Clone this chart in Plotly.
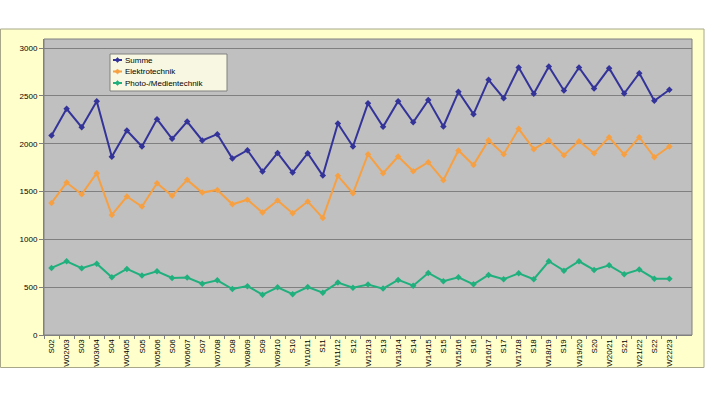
import plotly.graph_objects as go

categories = ["S02", "W02/03", "S03", "W03/04", "S04", "W04/05", "S05", "W05/06", "S06", "W06/07",
              "S07", "W07/08", "S08", "W08/09", "S09", "W09/10", "S10", "W10/11", "S11", "W11/12",
              "S12", "W12/13", "S13", "W13/14", "S14", "W14/15", "S15", "W15/16", "S16", "W16/17",
              "S17", "W17/18", "S18", "W18/19", "S19", "W19/20", "S20", "W20/21", "S21", "W21/22",
              "S22", "W22/23"]

summe = [2085, 2365, 2173, 2445, 1863, 2138, 1971, 2257, 2051, 2232,
         2034, 2100, 1845, 1932, 1709, 1904, 1699, 1901, 1667, 2211,
         1971, 2424, 2177, 2445, 2225, 2456, 2180, 2543, 2309, 2668,
         2476, 2797, 2522, 2808, 2557, 2797, 2578, 2790, 2525, 2738,
         2449, 2564]

elektro = [1381, 1594, 1472, 1692, 1256, 1448, 1343, 1587, 1455, 1622,
           1489, 1517, 1367, 1415, 1280, 1406, 1273, 1395, 1224, 1664,
           1482, 1890, 1692, 1866, 1713, 1807, 1618, 1929, 1777, 2037,
           1890, 2156, 1943, 2037, 1880, 2027, 1901, 2068, 1887, 2068,
           1859, 1971]

photo = [701, 771, 698, 746, 603, 691, 621, 666, 596, 600,
         537, 572, 481, 511, 422, 499, 426, 502, 443, 548,
         495, 527, 485, 576, 516, 649, 562, 603, 530, 628,
         583, 645, 583, 771, 673, 771, 680, 729, 635, 684,
         589, 589]

series = [
    ("Summe", summe, "#333399"),
    ("Elektrotechnik", elektro, "#F7A042"),
    ("Photo-/Medientechnik", photo, "#20B07E"),
]

W, H = 705, 397
L, R, T, B = 44, 13, 39, 62
pw, ph = W - L - R, H - T - B


def px_x(px):
    return (px - L) / pw


def px_y(py):
    return (H - B - py) / ph


fig = go.Figure()
for name, vals, col in series:
    fig.add_trace(go.Scatter(
        x=categories, y=vals, name=name, mode="lines+markers",
        line=dict(color=col, width=2),
        marker=dict(symbol="diamond", size=5, color=col),
        showlegend=False,
    ))

# outer chart area and plot area backgrounds
fig.add_shape(type="rect", xref="paper", yref="paper",
              x0=px_x(0.5), x1=px_x(704), y0=px_y(367.5), y1=px_y(29),
              fillcolor="#FFFFCC", line=dict(color="#A8A888", width=1), layer="below")
fig.add_shape(type="rect", xref="paper", yref="paper",
              x0=0, x1=1, y0=0, y1=1,
              fillcolor="#C0C0C0", line=dict(color="#808080", width=1), layer="below")

# legend box (drawn as in the original spreadsheet chart)
lg_x0, lg_x1, lg_y0, lg_y1 = 110, 227, 54, 91
fig.add_shape(type="rect", xref="paper", yref="paper",
              x0=px_x(lg_x0), x1=px_x(lg_x1), y0=px_y(lg_y1), y1=px_y(lg_y0),
              fillcolor="#F8F8E2", line=dict(color="#808080", width=1), layer="above")
for i, (name, vals, col) in enumerate(series):
    cy = 60 + i * 11.5
    fig.add_shape(type="line", xref="paper", yref="paper",
                  x0=px_x(113), x1=px_x(122), y0=px_y(cy), y1=px_y(cy),
                  line=dict(color=col, width=2), layer="above")
    d = 2.6
    path = "M {} {} L {} {} L {} {} L {} {} Z".format(
        px_x(117.5), px_y(cy - d), px_x(117.5 + d), px_y(cy),
        px_x(117.5), px_y(cy + d), px_x(117.5 - d), px_y(cy))
    fig.add_shape(type="path", xref="paper", yref="paper", path=path,
                  fillcolor=col, line=dict(color=col, width=0.5), layer="above")
    fig.add_annotation(xref="paper", yref="paper", x=px_x(122.5), y=px_y(cy),
                       xanchor="left", yanchor="middle", text=name, showarrow=False,
                       font=dict(size=8, color="#000000"))

fig.update_layout(
    width=W, height=H,
    margin=dict(l=L, r=R, t=T, b=B, pad=0, autoexpand=False),
    paper_bgcolor="white",
    plot_bgcolor="rgba(0,0,0,0)",
    font=dict(family="Liberation Sans, Arial, sans-serif", size=8, color="#000000"),
    showlegend=False,
    xaxis=dict(
        type="category", range=[-0.5, 42.5],
        tickangle=-90, tickson="boundaries", ticks="outside", ticklen=3,
        tickcolor="#808080", showgrid=False, showline=True, linecolor="#808080",
        tickfont=dict(size=8), fixedrange=True, automargin=False,
    ),
    yaxis=dict(
        range=[0, 3095], tickvals=[0, 500, 1000, 1500, 2000, 2500, 3000],
        ticks="outside", ticklen=4, tickcolor="#808080",
        showgrid=True, gridcolor="#808080", gridwidth=1,
        showline=True, linecolor="#808080", zeroline=False,
        tickfont=dict(size=8), fixedrange=True, automargin=False,
    ),
)

fig.write_html("out.html",
               config={"displayModeBar": False, "staticPlot": True},
               post_script="document.body.style.margin='0';document.body.style.overflow='hidden';")
